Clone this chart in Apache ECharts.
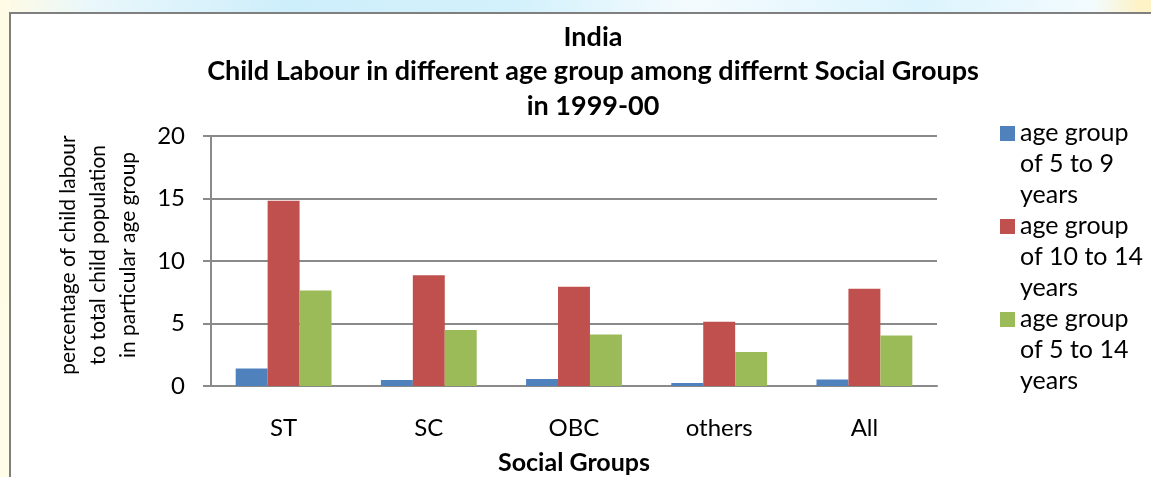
<!DOCTYPE html>
<html>
<head>
<meta charset="utf-8">
<title>India – Child Labour among Social Groups, 1999-00</title>
<script src="https://cdn.jsdelivr.net/npm/echarts@6/dist/echarts.min.js"></script>
<style>
  html, body { margin: 0; padding: 0; width: 1151px; height: 477px; overflow: hidden; }
  #page {
    position: absolute; left: 0; top: 0; width: 1151px; height: 477px;
    background: linear-gradient(to right, #fffbe4 0%, #e9f7fb 8%, #cdeefb 25%, #d3f1fc 45%, #f4fbfe 60%, #dcf4fd 80%, #f3fbfe 95%, #fdf3c6 99%);
  }
  #leftband {
    position: absolute; left: 0; top: 0; width: 9px; height: 477px;
    background: linear-gradient(to bottom, #fffbe4, #fffde8);
  }
  #frame {
    position: absolute; left: 9px; top: 12px; width: 1160px; height: 480px;
    background: #ffffff; border-left: 2px solid #7f7f7f; border-top: 2px solid #7f7f7f;
  }
  #chart { position: absolute; left: 0; top: 0; width: 1151px; height: 477px; }
</style>
</head>
<body>
<div id="page"></div>
<div id="leftband"></div>
<div id="frame"></div>
<div id="chart"></div>
<script>
// Social groups on the category axis
const categories = ['ST', 'SC', 'OBC', 'others', 'All'];

// Percentage of child labour to total child population, per age group
const age5to9 = [1.41, 0.48, 0.56, 0.24, 0.53];
const age10to14 = [14.82, 8.86, 7.95, 5.15, 7.79];
const age5to14 = [7.65, 4.48, 4.13, 2.72, 4.05];

// Value axis ticks
const yMin = 0;
const yMax = 20;
const yStep = 5;

// Series names as shown in the legend (wrapped over three lines)
const seriesNames = [
  'age group\nof 5 to 9\nyears',
  'age group\nof 10 to 14\nyears',
  'age group\nof 5 to 14\nyears'
];
const seriesColors = ['#4f81bd', '#c0504d', '#9bbb59'];

const FONT = 'Lato, "Open Sans", sans-serif';
const GRID_GRAY = '#8a8a8a';

// Legend swatch: a square aligned with the first text line, inside a tall box
const swatch = 'path://M0,0M0,93M0,8.5L15,8.5L15,23.5L0,23.5Z';

const chart = echarts.init(document.getElementById('chart'), null, { renderer: 'canvas' });

const option = {
  animation: false,
  backgroundColor: 'transparent',
  textStyle: { fontFamily: FONT },
  title: {
    text: 'India\nChild Labour in different age group among differnt Social Groups\nin 1999-00',
    left: 593,
    top: 20,
    padding: 0,
    textAlign: 'center',
    textStyle: {
      fontFamily: FONT,
      fontWeight: 'bold',
      fontSize: 27,
      lineHeight: 34.5,
      color: '#000000'
    }
  },
  legend: {
    orient: 'vertical',
    left: 1000,
    top: 117.5,
    padding: 0,
    itemGap: 0,
    itemWidth: 15,
    itemHeight: 93,
    selectedMode: false,
    icon: swatch,
    data: seriesNames,
    textStyle: {
      fontFamily: FONT,
      fontSize: 25,
      lineHeight: 31,
      color: '#000000'
    }
  },
  grid: {
    left: 211,
    top: 136,
    right: 214,
    bottom: 91,
    outerBoundsMode: 'none',
    containLabel: false
  },
  xAxis: {
    type: 'category',
    data: categories,
    name: 'Social Groups',
    nameLocation: 'middle',
    nameGap: 63,
    nameTextStyle: {
      fontFamily: FONT,
      fontWeight: 'bold',
      fontSize: 25,
      lineHeight: 27,
      color: '#000000'
    },
    axisLine: { show: true, lineStyle: { color: GRID_GRAY, width: 2 } },
    axisTick: { show: false },
    axisLabel: {
      margin: 30,
      fontFamily: FONT,
      fontSize: 24,
      color: '#000000'
    },
    splitLine: { show: false }
  },
  yAxis: {
    type: 'value',
    min: yMin,
    max: yMax,
    interval: yStep,
    name: 'percentage of child labour\nto total child population\nin particular age group',
    nameLocation: 'middle',
    nameRotate: 90,
    nameGap: 68,
    nameTextStyle: {
      fontFamily: FONT,
      fontSize: 21,
      lineHeight: 30,
      color: '#000000',
      align: 'center',
      padding: [0, 0, 0, 12]
    },
    axisLine: { show: true, lineStyle: { color: GRID_GRAY, width: 2 } },
    axisTick: { show: true, inside: false, length: 8, lineStyle: { color: GRID_GRAY, width: 2 } },
    axisLabel: {
      margin: 26,
      fontFamily: FONT,
      fontSize: 24,
      color: '#000000'
    },
    splitLine: { show: true, lineStyle: { color: GRID_GRAY, width: 2 } }
  },
  series: [age5to9, age10to14, age5to14].map(function (values, i) {
    return {
      name: seriesNames[i],
      type: 'bar',
      data: values,
      barGap: '0%',
      barCategoryGap: '34%',
      itemStyle: { color: seriesColors[i] },
      emphasis: { disabled: true }
    };
  })
};

chart.setOption(option);
</script>
</body>
</html>
